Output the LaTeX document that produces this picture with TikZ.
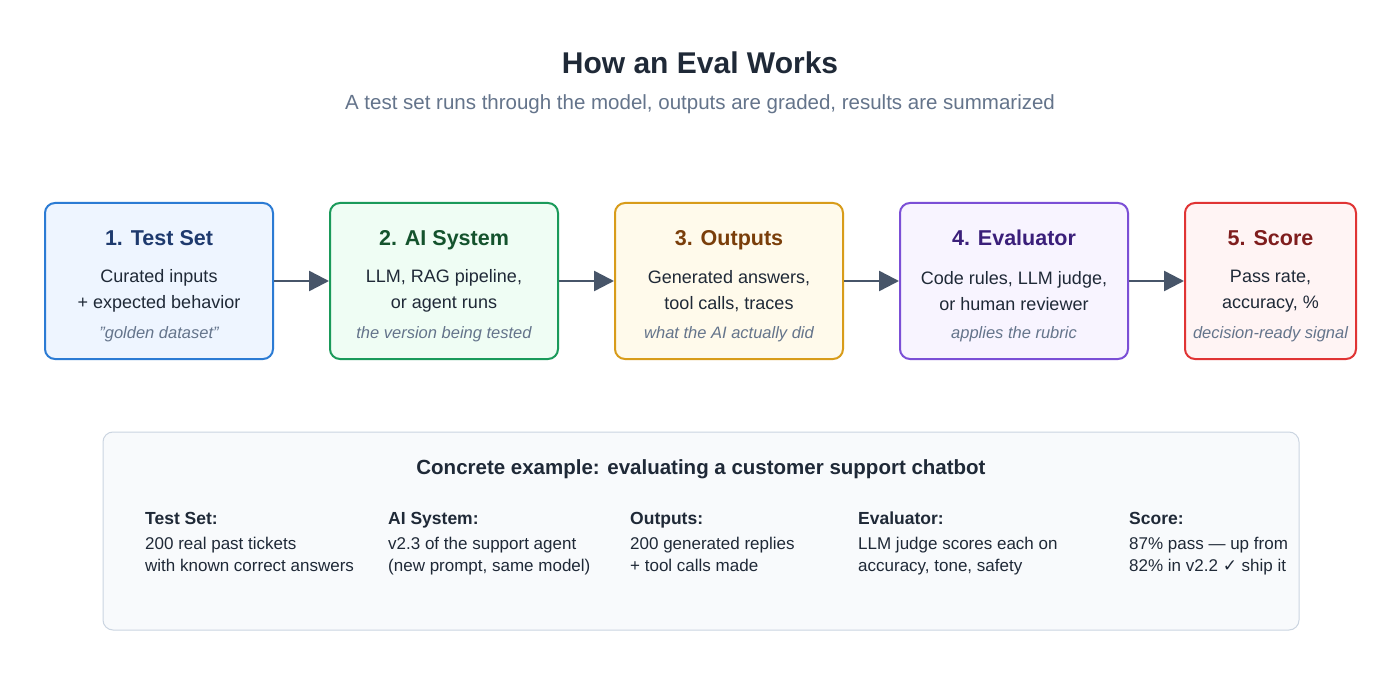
\documentclass[tikz,border=0pt]{standalone}
\usepackage{fontspec}
\setmainfont{Liberation Sans}
\newfontfamily\symfont{DejaVu Sans}
\usetikzlibrary{arrows.meta,positioning}
\definecolor{ink}{HTML}{1F2937}
\definecolor{muted}{HTML}{64748B}
\definecolor{arrowc}{HTML}{475569}
\definecolor{bluel}{HTML}{2B7BD4}\definecolor{bluef}{HTML}{EEF5FF}\definecolor{bluet}{HTML}{1E3A6E}
\definecolor{greenl}{HTML}{1A9A5A}\definecolor{greenf}{HTML}{EFFDF4}\definecolor{greent}{HTML}{14532D}
\definecolor{ambl}{HTML}{D89C1A}\definecolor{ambf}{HTML}{FFFAEB}\definecolor{ambt}{HTML}{7A3E0A}
\definecolor{purl}{HTML}{7B4FD6}\definecolor{purf}{HTML}{F8F4FF}\definecolor{purt}{HTML}{3B1F7A}
\definecolor{redl}{HTML}{E03434}\definecolor{redf}{HTML}{FFF4F4}\definecolor{redt}{HTML}{7F1D1D}
\definecolor{panelf}{HTML}{F8FAFC}\definecolor{panell}{HTML}{CBD5E1}
\tikzset{
  step/.style={draw=#1l, fill=#1f, line width=2pt, rounded corners=10pt, minimum height=156pt},
  flow/.style={-{Triangle[length=20pt,width=20pt]}, draw=arrowc, line width=2.5pt},
  body/.style={text=ink, font=\fontsize{18}{26}\selectfont, align=center},
  note/.style={text=muted, font=\fontsize{16.5}{20}\selectfont\itshape, anchor=base},
  head/.style={text=ink, font=\fontsize{17.5}{20}\selectfont\bfseries, anchor=base west, inner sep=0pt},
  line/.style={text=ink, font=\fontsize{17}{22}\selectfont, anchor=north west, align=left, inner sep=0pt},
}
\newcommand{\stepbox}[6]{% name, colour, x, width, title, body
  \node[step=#2, minimum width=#4pt] (#1) at (#3,281) {};
  \node[text=#2t, font=\fontsize{21.5}{24}\selectfont\bfseries, anchor=base] at (#3,246) {#5};
  \node[body] at (#3,291) {#6};
}
\begin{document}
\begin{tikzpicture}[x=1pt,y=-1pt]
  \useasboundingbox[fill=white] (0,0) rectangle (1400,676);
  \node[text=ink, font=\fontsize{30}{34}\selectfont\bfseries, anchor=base] (title) at (700,74) {How an Eval Works};
  \node[text=muted, font=\fontsize{20.5}{24}\selectfont, anchor=base] (sub) at (700,110) {A test set runs through the model, outputs are graded, results are summarized};

  \stepbox{testset}{blue}{159}{228}{1. Test Set}{Curated inputs\\+ expected behavior}
  \stepbox{aisys}{green}{444}{228}{2. AI System}{LLM, RAG pipeline,\\or agent runs}
  \stepbox{outputs}{amb}{729}{228}{3. Outputs}{Generated answers,\\tool calls, traces}
  \stepbox{evaluator}{pur}{1014}{228}{4. Evaluator}{Code rules, LLM judge,\\or human reviewer}
  \stepbox{score}{red}{1270.5}{171}{5. Score}{Pass rate,\\accuracy, \%}
  \node[note] at (159,338) {\symbol{34}golden dataset\symbol{34}};
  \node[note] at (444,338) {the version being tested};
  \node[note] at (729,338) {what the AI actually did};
  \node[note] at (1014,338) {applies the rubric};
  \node[note] at (1270.5,338) {decision-ready signal};

  \draw[flow] (testset) -- (aisys);
  \draw[flow] (aisys) -- (outputs);
  \draw[flow] (outputs) -- (evaluator);
  \draw[flow] (evaluator) -- (score);

  % example panel
  \node[draw=panell, fill=panelf, line width=1pt, rounded corners=10pt,
        minimum width=1196pt, minimum height=198pt] (panel) at (701,531) {};
  \node[text=ink, font=\fontsize{20.5}{24}\selectfont\bfseries, anchor=base] at (701,474) {Concrete example: evaluating a customer support chatbot};
  \node[head] at (145,524) {Test Set:};
  \node[line] at (145,537) {200 real past tickets\\with known correct answers};
  \node[head] at (388,524) {AI System:};
  \node[line] at (388,537) {v2.3 of the support agent\\(new prompt, same model)};
  \node[head] at (630,524) {Outputs:};
  \node[line] at (630,537) {200 generated replies\\+ tool calls made};
  \node[head] at (858,524) {Evaluator:};
  \node[line] at (858,537) {LLM judge scores each on\\accuracy, tone, safety};
  \node[head] at (1129,524) {Score:};
  \node[line] at (1129,537) {87\% pass — up from\\82\% in v2.2 {\symfont ✓} ship it};
\end{tikzpicture}
\end{document}
